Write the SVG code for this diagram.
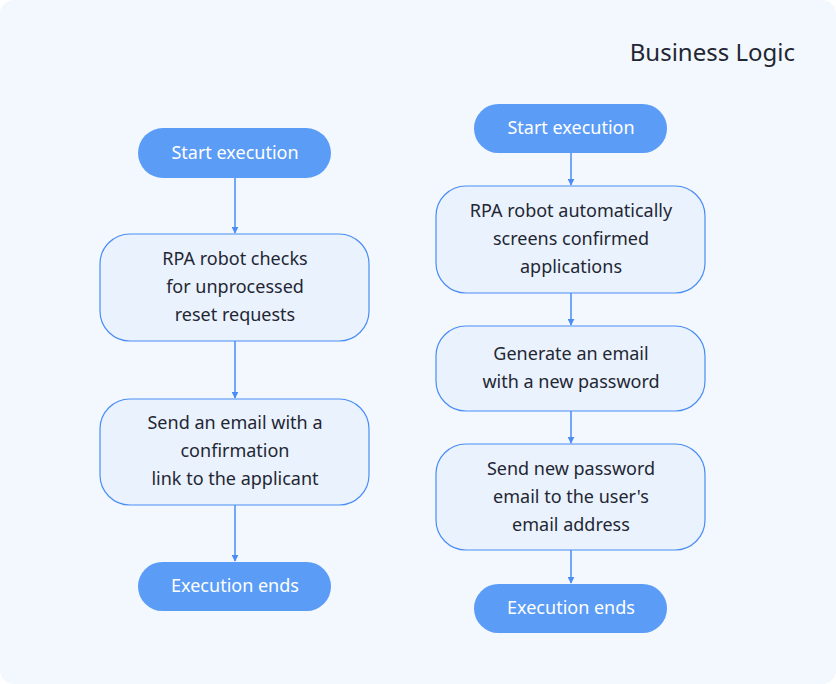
<svg xmlns="http://www.w3.org/2000/svg" width="836" height="684" viewBox="0 0 836 684">
<defs>
<style>
.pill{fill:#5b9cf6}
.pt{fill:#fff;font:18px "Noto Sans","Liberation Sans",sans-serif;text-anchor:middle}
.box{fill:#eaf2fd;stroke:#4a8df5;stroke-width:1.2}
.bt{fill:#1f2733;font:18px "Noto Sans","Liberation Sans",sans-serif;text-anchor:middle}
.c{stroke:#4a8df5;stroke-width:1.5;fill:none;marker-end:url(#a)}
</style>
<marker id="a" viewBox="0 0 10 10" refX="9" refY="5" markerWidth="7" markerHeight="7" orient="auto" markerUnits="userSpaceOnUse"><path d="M0,0L10,5L0,10z" fill="#4a8df5"/></marker>
</defs>
<rect x="0" y="0" width="836" height="684" rx="14" fill="#f3f8fe"/>
<text x="795" y="61" text-anchor="end" style="font:24px 'Noto Sans','Liberation Sans',sans-serif;fill:#1f2733">Business Logic</text>
<g id="connectors">
<path class="c" d="M235,178V233"/>
<path class="c" d="M235,341V398"/>
<path class="c" d="M235,505V561"/>
<path class="c" d="M571,153V185"/>
<path class="c" d="M571,293V325"/>
<path class="c" d="M571,411V443"/>
<path class="c" d="M571,550V583"/>
</g>
<g id="l-start"><rect class="pill" x="138" y="128" width="193" height="50" rx="25"/><text class="pt" x="235" y="159">Start execution</text></g>
<g id="l-check"><rect class="box" x="100" y="234" width="269" height="107" rx="30"/><text class="bt" x="235" y="265">RPA robot checks</text><text class="bt" x="235" y="293">for unprocessed</text><text class="bt" x="235" y="321">reset requests</text></g>
<g id="l-send"><rect class="box" x="100" y="399" width="269" height="106" rx="30"/><text class="bt" x="235" y="429">Send an email with a</text><text class="bt" x="235" y="457">confirmation</text><text class="bt" x="235" y="485">link to the applicant</text></g>
<g id="l-end"><rect class="pill" x="138" y="562" width="193" height="49" rx="24.5"/><text class="pt" x="235" y="592">Execution ends</text></g>
<g id="r-start"><rect class="pill" x="474" y="104" width="193" height="49" rx="24.5"/><text class="pt" x="571" y="134">Start execution</text></g>
<g id="r-screen"><rect class="box" x="436" y="186" width="269" height="107" rx="30"/><text class="bt" x="571" y="217">RPA robot automatically</text><text class="bt" x="571" y="245">screens confirmed</text><text class="bt" x="571" y="273">applications</text></g>
<g id="r-gen"><rect class="box" x="436" y="326" width="269" height="85" rx="30"/><text class="bt" x="571" y="360">Generate an email</text><text class="bt" x="571" y="388">with a new password</text></g>
<g id="r-send"><rect class="box" x="436" y="444" width="269" height="106" rx="30"/><text class="bt" x="571" y="475">Send new password</text><text class="bt" x="571" y="503">email to the user's</text><text class="bt" x="571" y="531">email address</text></g>
<g id="r-end"><rect class="pill" x="474" y="584" width="193" height="49" rx="24.5"/><text class="pt" x="571" y="614">Execution ends</text></g>
</svg>
